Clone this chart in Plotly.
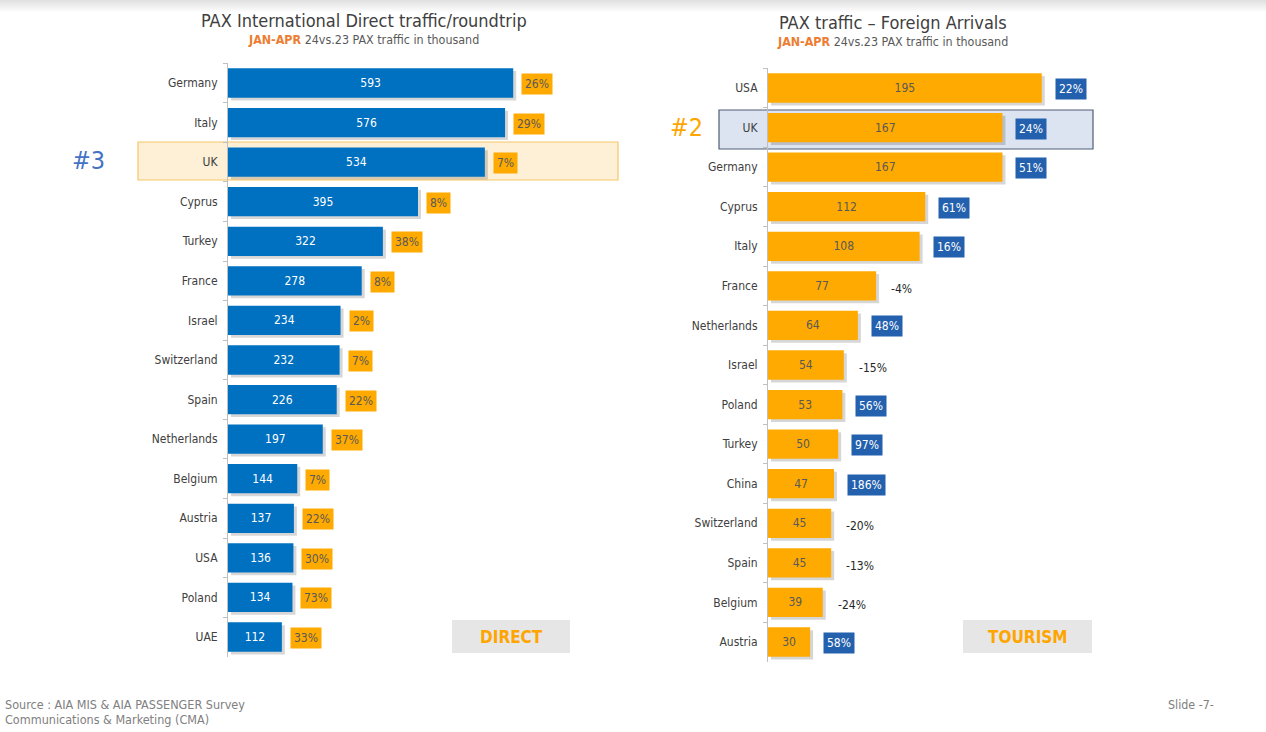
import plotly.graph_objects as go

# ---------------- data ----------------
direct_countries = ["Germany", "Italy", "UK", "Cyprus", "Turkey", "France", "Israel",
                    "Switzerland", "Spain", "Netherlands", "Belgium", "Austria", "USA",
                    "Poland", "UAE"]
direct_values = [593, 576, 534, 395, 322, 278, 234, 232, 226, 197, 144, 137, 136, 134, 112]
direct_change = [26, 29, 7, 8, 38, 8, 2, 7, 22, 37, 7, 22, 30, 73, 33]

tour_countries = ["USA", "UK", "Germany", "Cyprus", "Italy", "France", "Netherlands",
                  "Israel", "Poland", "Turkey", "China", "Switzerland", "Spain",
                  "Belgium", "Austria"]
tour_values = [195, 167, 167, 112, 108, 77, 64, 54, 53, 50, 47, 45, 45, 39, 30]
tour_change = [22, 24, 51, 61, 16, -4, 48, -15, 56, 97, 186, -20, -13, -24, 58]

# ---------------- style ----------------
W, H = 1266, 732
FONT = "Tahoma, 'DejaVu Sans Condensed', 'Liberation Sans', sans-serif"
BLUE = "#0070C0"
ORANGE = "#FFAA00"
DBLUE = "#2361AE"
GREY_TXT = "#404040"
BAR_W = 0.74
L_SCALE = 0.481   # px per unit, left chart
R_SCALE = 1.404   # px per unit, right chart


def px(x):
    return x / W


def py(y):
    return 1 - y / H


fig = go.Figure()

# soft drop shadows behind bars
fig.add_trace(go.Bar(
    y=direct_countries, x=direct_values, orientation="h", base=3 / L_SCALE,
    marker=dict(color="rgba(0,0,0,0.16)", line=dict(width=0)),
    width=BAR_W, offset=-BAR_W / 2 + 0.07,
    xaxis="x", yaxis="y", hoverinfo="skip",
))
fig.add_trace(go.Bar(
    y=tour_countries, x=tour_values, orientation="h", base=3 / R_SCALE,
    marker=dict(color="rgba(0,0,0,0.16)", line=dict(width=0)),
    width=BAR_W, offset=-BAR_W / 2 + 0.07,
    xaxis="x2", yaxis="y2", hoverinfo="skip",
))

# left chart bars
fig.add_trace(go.Bar(
    y=direct_countries, x=direct_values, orientation="h",
    marker=dict(color=BLUE, line=dict(width=0)),
    width=BAR_W,
    text=[str(v) for v in direct_values], textposition="inside",
    insidetextanchor="middle", textangle=0, constraintext="none",
    textfont=dict(color="white", size=12, family=FONT),
    xaxis="x", yaxis="y", hoverinfo="skip", cliponaxis=False,
))

# right chart bars
fig.add_trace(go.Bar(
    y=tour_countries, x=tour_values, orientation="h",
    marker=dict(color=ORANGE, line=dict(width=0)),
    width=BAR_W,
    text=[str(v) for v in tour_values], textposition="inside",
    insidetextanchor="middle", textangle=0, constraintext="none",
    textfont=dict(color="#595959", size=12, family=FONT),
    xaxis="x2", yaxis="y2", hoverinfo="skip", cliponaxis=False,
))

annotations = []
# left percentage labels
for c, v, ch in zip(direct_countries, direct_values, direct_change):
    annotations.append(dict(
        x=v, y=c, xref="x", yref="y", xanchor="left", yanchor="middle",
        xshift=8, yshift=-1, text=f"{ch}%", showarrow=False,
        bgcolor=ORANGE, borderpad=3,
        font=dict(size=12, color="#595959", family=FONT)))

# right percentage labels
for c, v, ch in zip(tour_countries, tour_values, tour_change):
    if ch >= 0:
        annotations.append(dict(
            x=v, y=c, xref="x2", yref="y2", xanchor="left", yanchor="middle",
            xshift=13, yshift=-1, text=f"{ch}%", showarrow=False,
            bgcolor=DBLUE, borderpad=3,
            font=dict(size=12, color="white", family=FONT)))
    else:
        annotations.append(dict(
            x=v, y=c, xref="x2", yref="y2", xanchor="left", yanchor="middle",
            xshift=13, yshift=-3, text=f"{ch}%", showarrow=False,
            font=dict(size=12, color="#262626", family=FONT)))


def ptext(x, y, text, size, color, xanchor="center"):
    return dict(x=px(x), y=py(y), xref="paper", yref="paper", showarrow=False,
                xanchor=xanchor, yanchor="middle", text=text,
                font=dict(size=size, color=color, family=FONT))


SUB = "<b><span style='color:#ED7D31'>JAN-APR</span></b> 24vs.23 PAX traffic in thousand"
annotations += [
    ptext(364, 20, "PAX International Direct traffic/roundtrip", 18, GREY_TXT),
    ptext(363, 39, SUB, 12.4, "#595959"),
    ptext(893, 23, "PAX traffic – Foreign Arrivals", 18, GREY_TXT),
    ptext(892, 41, SUB, 12.4, "#595959"),
    ptext(88, 161, "#3", 25, "#4472C4"),
    ptext(686, 128, "#2", 25, "#FFA500"),
    ptext(511, 637, "<b>DIRECT</b>", 17, "#FFA500"),
    ptext(1028, 637, "<b>TOURISM</b>", 17, "#FFA500"),
    ptext(3, 704, "Source : AIA MIS & AIA PASSENGER Survey", 12.5, "#808080", "left"),
    ptext(3, 719, "Communications & Marketing (CMA)", 12.5, "#808080", "left"),
    ptext(1191, 704, "Slide -7-", 12.4, "#808080"),
]

shapes = [
    # left highlight
    dict(type="rect", xref="paper", yref="paper", layer="below",
         x0=px(138), x1=px(618), y0=py(180), y1=py(142),
         fillcolor="#FDF0D6", line=dict(color="#F6C667", width=1.2)),
    # right highlight
    dict(type="rect", xref="paper", yref="paper", layer="below",
         x0=px(719), x1=px(1093), y0=py(149), y1=py(110),
         fillcolor="#DCE4F2", line=dict(color="#4F5D78", width=1.2)),
    # label boxes
    dict(type="rect", xref="paper", yref="paper", layer="below",
         x0=px(452), x1=px(570), y0=py(653), y1=py(620),
         fillcolor="#E7E6E6", line=dict(width=0)),
    dict(type="rect", xref="paper", yref="paper", layer="below",
         x0=px(963), x1=px(1092), y0=py(653), y1=py(620),
         fillcolor="#E7E6E6", line=dict(width=0)),
]
# soft top shadow band
for i in range(12):
    g = int(225 + i * 2.5)
    shapes.append(dict(type="rect", xref="paper", yref="paper", layer="below",
                       x0=0, x1=1, y0=py(i + 1), y1=py(i),
                       fillcolor=f"rgb({g},{g},{g})", line=dict(width=0)))

axis_common = dict(
    type="category", showgrid=False, zeroline=False, showline=True,
    linecolor="#BFBFBF", linewidth=1, ticks="outside", tickson="boundaries",
    ticklen=4, tickcolor="#BFBFBF", ticklabelstandoff=7,
    tickfont=dict(size=12, color=GREY_TXT, family=FONT),
)

fig.update_layout(
    width=W, height=H, margin=dict(l=0, r=0, t=0, b=0),
    paper_bgcolor="white", plot_bgcolor="rgba(0,0,0,0)",
    showlegend=False, barmode="overlay",
    xaxis=dict(domain=[px(228), px(618)], range=[0, 390 / L_SCALE], visible=False,
               anchor="y"),
    yaxis=dict(domain=[py(656.8), py(63.2)], categoryorder="array",
               categoryarray=direct_countries, range=[14.5, -0.5], anchor="x",
               **axis_common),
    xaxis2=dict(domain=[px(768), px(1100)], range=[0, 332 / R_SCALE], visible=False,
                anchor="y2"),
    yaxis2=dict(domain=[py(661.8), py(68.2)], categoryorder="array",
                categoryarray=tour_countries, range=[14.5, -0.5], anchor="x2",
                **axis_common),
    annotations=annotations, shapes=shapes,
)

fig.write_html("out.html", config={"displayModeBar": False},
               post_script="document.body.style.margin='0';document.body.style.padding='0';")
